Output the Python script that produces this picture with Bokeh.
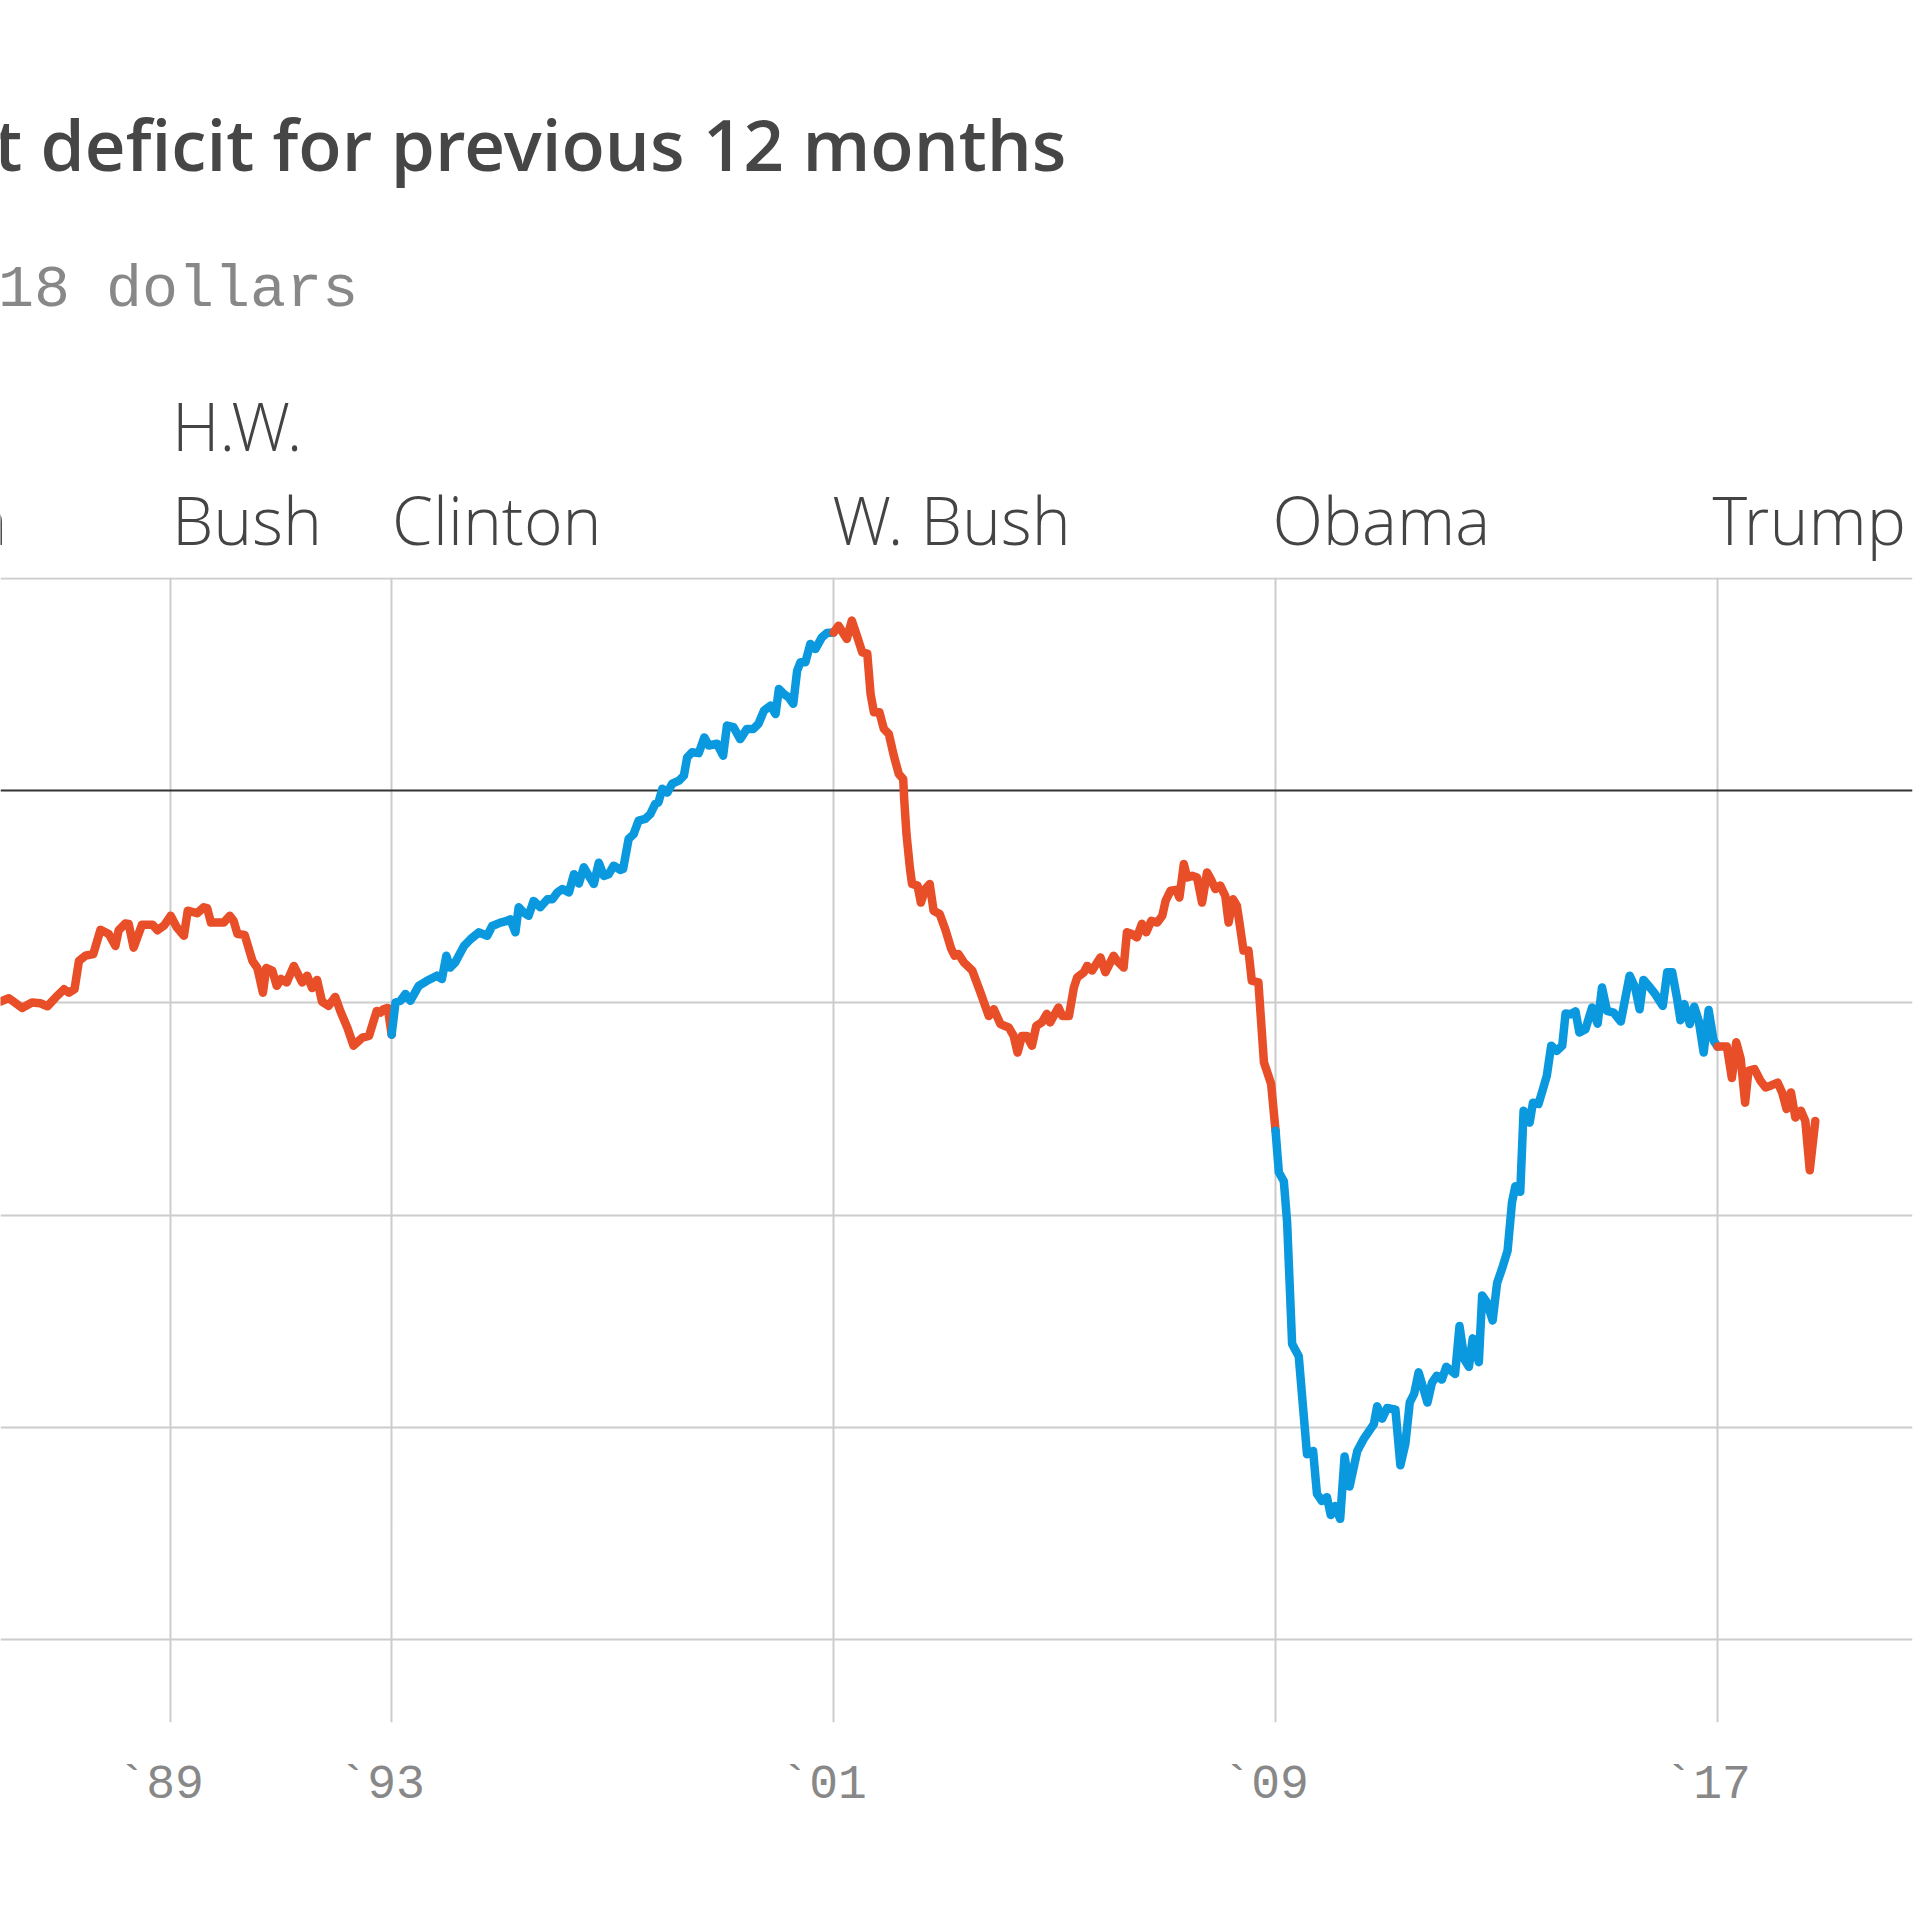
from bokeh.plotting import figure
from bokeh.layouts import column
from bokeh.models import Range1d, FixedTicker
from bokeh.core.properties import value
from bokeh.embed import file_html
from bokeh.resources import INLINE

# ---- data ----
years = [
    1985.92, 1986.07, 1986.31, 1986.49, 1986.64, 1986.77, 1986.92, 1987.07, 1987.16, 1987.26,
    1987.34, 1987.46, 1987.60, 1987.73, 1987.88, 1988.00, 1988.06, 1988.18, 1988.24, 1988.33,
    1988.48, 1988.67, 1988.76, 1988.88, 1989.00, 1989.11, 1989.24, 1989.31, 1989.48, 1989.60,
    1989.66, 1989.73, 1989.96, 1990.07, 1990.14, 1990.21, 1990.34, 1990.48, 1990.57, 1990.67,
    1990.73, 1990.84, 1990.92, 1991.00, 1991.10, 1991.23, 1991.38, 1991.47, 1991.56, 1991.65,
    1991.74, 1991.86, 1991.98, 1992.07, 1992.20, 1992.31, 1992.47, 1992.59, 1992.73, 1992.80,
    1992.85, 1992.93, 1993.00,
    1993.07, 1993.16, 1993.25, 1993.34, 1993.49, 1993.64, 1993.82, 1993.91, 1993.99, 1994.06,
    1994.15, 1994.31, 1994.43, 1994.58, 1994.73, 1994.82, 1994.97, 1995.09, 1995.15, 1995.24,
    1995.30, 1995.39, 1995.48, 1995.57, 1995.69, 1995.82, 1995.91, 1996.00, 1996.09, 1996.21,
    1996.30, 1996.39, 1996.48, 1996.57, 1996.66, 1996.75, 1996.84, 1996.93, 1997.02, 1997.14,
    1997.19, 1997.29, 1997.38, 1997.47, 1997.59, 1997.68, 1997.77, 1997.83, 1997.90, 1997.99,
    1998.08, 1998.20, 1998.29, 1998.35, 1998.44, 1998.56, 1998.66, 1998.74, 1998.89, 1999.00,
    1999.07, 1999.19, 1999.31, 1999.43, 1999.55, 1999.64, 1999.74, 1999.86, 1999.95, 2000.01,
    2000.10, 2000.19, 2000.27, 2000.34, 2000.40, 2000.49, 2000.58, 2000.67, 2000.79, 2000.88,
    2001.00,
    2001.09, 2001.24, 2001.33, 2001.43, 2001.52, 2001.61, 2001.67, 2001.73, 2001.83, 2001.91,
    2002.00, 2002.09, 2002.18, 2002.26, 2002.28, 2002.32, 2002.38, 2002.42, 2002.52, 2002.58,
    2002.66, 2002.74, 2002.81, 2002.92, 2003.02, 2003.13, 2003.19, 2003.26, 2003.36, 2003.51,
    2003.66, 2003.81, 2003.90, 2004.02, 2004.17, 2004.26, 2004.33, 2004.41, 2004.50, 2004.59,
    2004.67, 2004.77, 2004.86, 2004.92, 2005.07, 2005.14, 2005.26, 2005.35, 2005.41, 2005.53,
    2005.59, 2005.68, 2005.83, 2005.92, 2006.07, 2006.13, 2006.25, 2006.31, 2006.40, 2006.49,
    2006.58, 2006.66, 2006.75, 2006.86, 2006.95, 2007.01, 2007.10, 2007.20, 2007.26, 2007.34,
    2007.40, 2007.49, 2007.58, 2007.67, 2007.76, 2007.83, 2007.91, 2008.00, 2008.09, 2008.15,
    2008.23, 2008.30, 2008.35, 2008.42, 2008.51, 2008.57, 2008.69, 2008.79, 2008.92, 2009.00,
    2009.06, 2009.15, 2009.21, 2009.30, 2009.42, 2009.51, 2009.57, 2009.68, 2009.75, 2009.84,
    2009.93, 2010.00, 2010.08, 2010.17, 2010.25, 2010.34, 2010.48, 2010.60, 2010.78, 2010.84,
    2010.93, 2011.02, 2011.17, 2011.26, 2011.35, 2011.43, 2011.51, 2011.59, 2011.75, 2011.83,
    2011.92, 2012.01, 2012.09, 2012.25, 2012.33, 2012.42, 2012.50, 2012.57, 2012.68, 2012.74,
    2012.83, 2012.93, 2013.01, 2013.10, 2013.20, 2013.28, 2013.34, 2013.43, 2013.49, 2013.60,
    2013.66, 2013.76, 2013.85, 2013.91, 2013.99, 2014.09, 2014.19, 2014.25, 2014.34, 2014.43,
    2014.50, 2014.61, 2014.73, 2014.83, 2014.91, 2015.00, 2015.12, 2015.25, 2015.41, 2015.51,
    2015.59, 2015.66, 2015.78, 2015.87, 2016.01, 2016.09, 2016.18, 2016.27, 2016.33, 2016.40,
    2016.50, 2016.58, 2016.66, 2016.75, 2016.84, 2016.93, 2017.00,
    2017.17, 2017.26, 2017.34, 2017.42, 2017.50, 2017.56, 2017.67, 2017.78, 2017.87, 2017.96,
    2018.09, 2018.17, 2018.25, 2018.33, 2018.41, 2018.51, 2018.59, 2018.67, 2018.77,
]
deficit = [
    -497, -489, -512, -499, -501, -508, -487, -468, -476, -468,
    -401, -389, -385, -328, -338, -366, -329, -313, -314, -370,
    -316, -316, -329, -318, -295, -322, -342, -283, -289, -275,
    -277, -311, -311, -295, -307, -338, -340, -401, -418, -476,
    -418, -424, -460, -444, -452, -413, -452, -436, -465, -446,
    -497, -507, -486, -519, -559, -601, -582, -578, -519, -523,
    -515, -512, -575,
    -499, -495, -479, -495, -460, -448, -436, -444, -389, -417,
    -405, -366, -350, -334, -342, -319, -311, -307, -303, -334,
    -275, -287, -295, -260, -275, -256, -256, -240, -232, -240,
    -197, -219, -181, -201, -220, -170, -201, -197, -177, -187,
    -185, -114, -103, -71, -67, -56, -32, -28, 4, -5,
    16, 23, 35, 78, 90, 88, 125, 106, 110, 82,
    153, 149, 121, 145, 145, 157, 188, 200, 180, 239,
    227, 219, 204, 282, 302, 302, 345, 333, 361, 371,
    372,
    388, 357, 400, 361, 325, 322, 227, 184, 184, 145,
    133, 82, 39, 27, -24, -103, -181, -220, -224, -264,
    -232, -220, -283, -291, -326, -373, -389, -385, -405, -424,
    -476, -531, -515, -550, -558, -578, -617, -578, -578, -601,
    -554, -546, -526, -546, -511, -531, -531, -464, -440, -428,
    -413, -424, -393, -428, -389, -401, -417, -334, -338, -346,
    -314, -334, -307, -311, -295, -260, -236, -234, -252, -173,
    -205, -201, -205, -264, -193, -209, -232, -224, -248, -311,
    -256, -271, -314, -377, -377, -448, -452, -640, -691, -801,
    -899, -920, -1017, -1303, -1332, -1471, -1563, -1555, -1656, -1673,
    -1664, -1706, -1685, -1715, -1568, -1639, -1555, -1526, -1492, -1450,
    -1479, -1454, -1458, -1589, -1538, -1441, -1420, -1370, -1441, -1395,
    -1378, -1387, -1357, -1374, -1261, -1340, -1357, -1290, -1346, -1189,
    -1206, -1248, -1160, -1126, -1084, -970, -932, -945, -754, -782,
    -735, -738, -699, -672, -601, -613, -601, -525, -527, -520,
    -570, -562, -511, -549, -464, -519, -523, -544, -436, -464,
    -515, -446, -464, -479, -507, -428, -428, -491, -541, -503,
    -550, -509, -542, -617, -517, -589, -603,
    -603, -677, -593, -632, -735, -660, -656, -684, -699, -695,
    -688, -711, -750, -711, -770, -754, -778, -894, -778,
]

term_names = ["Reagan", "H.W. Bush", "Clinton", "W. Bush", "Obama", "Trump"]
term_starts = [1981, 1989, 1993, 2001, 2009, 2017]
term_party = ["R", "R", "D", "R", "D", "R"]

tick_years = [1989, 1993, 2001, 2009, 2017]
tick_labels = ["`89", "`93", "`01", "`09", "`17"]
grid_values = [500, -500, -1000, -1500, -2000]

title_text = "Federal budget deficit for previous 12 months"
subtitle_text = "In billions of 2018 dollars"

party_color = {"R": "#E84E27", "D": "#0A98DF"}

X0, X1 = 1985.92, 2020.67   # visible years across the full 1920 px width

# ---- header (title, subtitle, president names) ----
head = figure(width=1920, height=570, output_backend="svg", toolbar_location=None,
              x_range=Range1d(X0, X1), y_range=Range1d(570, 0),
              min_border=0, title=None)
head.outline_line_color = None
head.axis.visible = False
head.grid.visible = False
head.background_fill_color = "white"
head.border_fill_color = "white"

head.text(x=[2005.29], y=[143], text=[title_text],
          text_font=value("Open Sans SemiBold, Open Sans"),
          text_font_style="bold", text_font_size="71px", text_color="#464646",
          text_align="right", text_baseline="alphabetic")
head.text(x=[1992.42], y=[289], text=[subtitle_text],
          text_font=value("Liberation Mono"), text_font_size="60px",
          text_color="#888888", text_align="right", text_baseline="alphabetic")

name_x, name_y, name_t, name_align = [], [], [], []
for name, start in zip(term_names, term_starts):
    if name == "H.W. Bush":
        name_x += [start, start]
        name_y += [424, 518]
        name_t += ["H.W.", "Bush"]
        name_align += ["left", "left"]
    elif start < X0:
        name_x.append(X0 + 0.09)
        name_y.append(518)
        name_t.append(name)
        name_align.append("right")
    else:
        name_x.append(start)
        name_y.append(518)
        name_t.append(name)
        name_align.append("left")
head.text(x=name_x, y=name_y, text=name_t, text_align=name_align, x_offset=2,
          text_font=value("Open Sans Light, Open Sans"), text_font_size="66px",
          text_color="#444444", text_baseline="alphabetic")

# ---- main chart ----
p = figure(width=1920, height=1350, output_backend="svg", toolbar_location=None,
           x_range=Range1d(X0, 2020.53), y_range=Range1d(-2194.5, 501.5),
           min_border_left=0, min_border_right=8, min_border_top=7,
           min_border_bottom=198, title=None)
p.outline_line_color = None
p.background_fill_color = "white"
p.border_fill_color = "white"
p.yaxis.visible = False

label_shift = 0.18  # labels sit slightly left of their gridline
p.xaxis.ticker = FixedTicker(ticks=[y - label_shift for y in tick_years])
p.xaxis.major_label_overrides = {y - label_shift: t for y, t in zip(tick_years, tick_labels)}
p.xaxis.axis_line_color = None
p.xaxis.major_tick_line_color = None
p.xaxis.minor_tick_line_color = None
p.xaxis.major_label_text_font = "Liberation Mono"
p.xaxis.major_label_text_font_size = "48px"
p.xaxis.major_label_text_color = "#888888"
p.xaxis.major_label_standoff = 29

p.xgrid.ticker = FixedTicker(ticks=tick_years)
p.xgrid.grid_line_color = "#cccccc"
p.xgrid.grid_line_width = 2
p.ygrid.ticker = FixedTicker(ticks=grid_values)
p.ygrid.grid_line_color = "#cccccc"
p.ygrid.grid_line_width = 2

# zero line
p.hspan(y=[0], line_color="#333333", line_width=2)

# segments by party run
runs = []
for name, start, party in zip(term_names, term_starts, term_party):
    if runs and runs[-1][2] == party:
        continue
    runs.append([name, start, party])
for i, (name, start, party) in enumerate(runs):
    end = runs[i + 1][1] if i + 1 < len(runs) else 9999
    xs = [x for x in years if start <= x <= end]
    ys = [v for x, v in zip(years, deficit) if start <= x <= end]
    p.line(xs, ys, line_color=party_color[party], line_width=8.5,
           line_join="round", line_cap="round")

layout = column(head, p, spacing=0)
open("out.html", "w").write(file_html(layout, INLINE))
